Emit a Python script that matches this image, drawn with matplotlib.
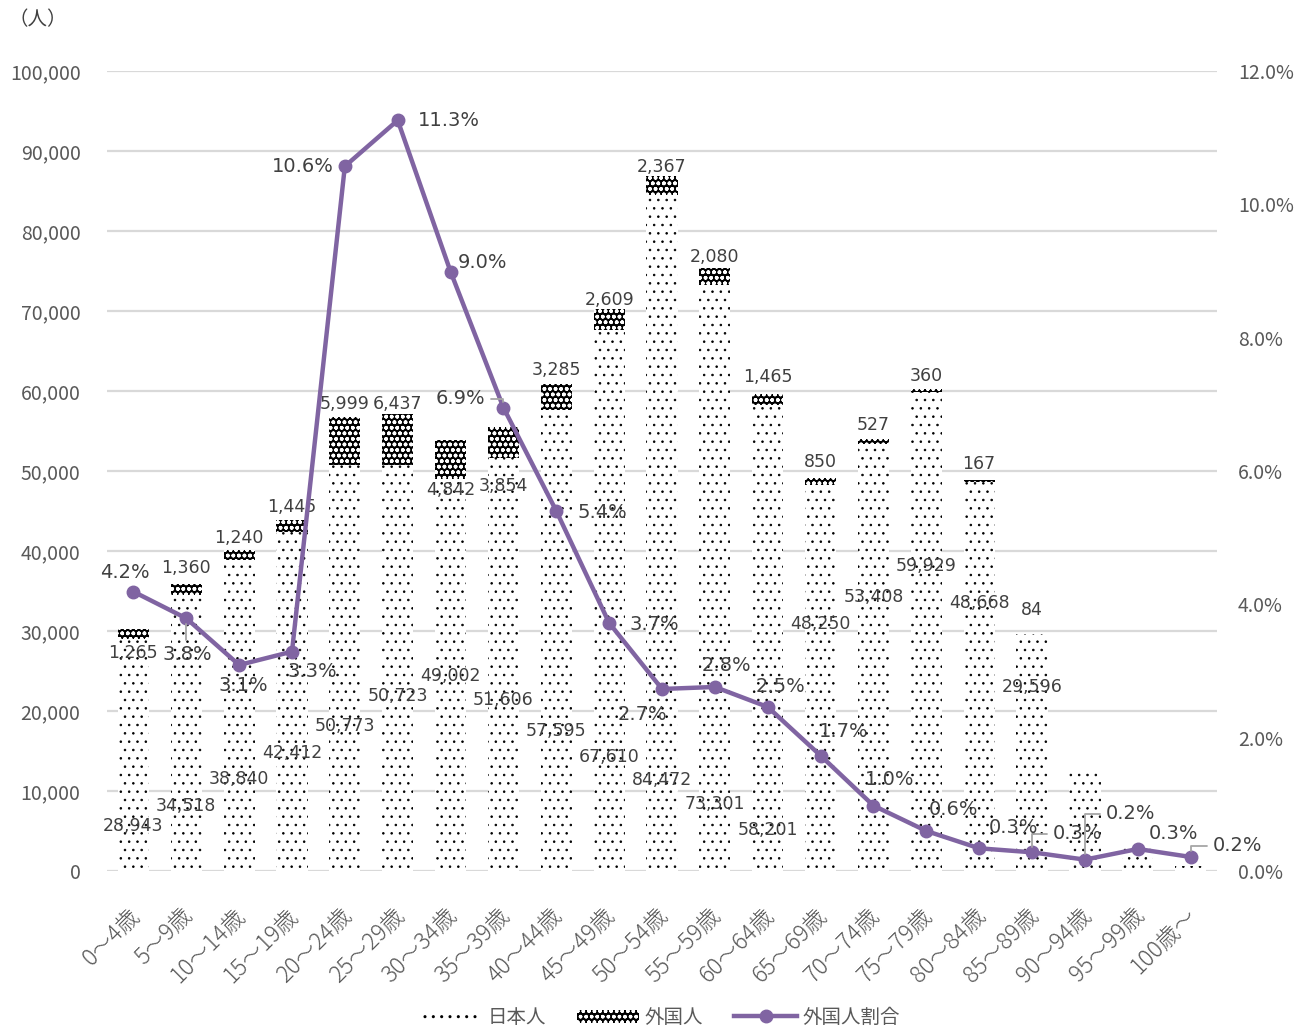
import matplotlib
matplotlib.use("Agg")
import matplotlib.pyplot as plt
from matplotlib.patches import Patch
from matplotlib.lines import Line2D
from matplotlib.ticker import FuncFormatter, MultipleLocator
from matplotlib.transforms import ScaledTranslation

plt.rcParams['font.family'] = ['Noto Sans CJK JP', 'DejaVu Sans']

# ---------------- data ----------------
categories = ["0～4歳", "5～9歳", "10～14歳", "15～19歳", "20～24歳", "25～29歳",
              "30～34歳", "35～39歳", "40～44歳", "45～49歳", "50～54歳", "55～59歳",
              "60～64歳", "65～69歳", "70～74歳", "75～79歳", "80～84歳", "85～89歳",
              "90～94歳", "95～99歳", "100歳～"]
japanese = [28943, 34518, 38840, 42412, 50773, 50723, 49002, 51606, 57595, 67610,
            84472, 73301, 58201, 48250, 53408, 59929, 48668, 29596, 12850, 3200, 560]
foreign = [1265, 1360, 1240, 1445, 5999, 6437, 4842, 3854, 3285, 2609,
           2367, 2080, 1465, 850, 527, 360, 167, 84, 25, 10, 1]
ratio = [4.19, 3.79, 3.09, 3.29, 10.57, 11.26, 8.99, 6.95, 5.40, 3.72,
         2.73, 2.76, 2.46, 1.73, 0.98, 0.60, 0.34, 0.28, 0.17, 0.33, 0.21]
ratio_labels = ["4.2%", "3.8%", "3.1%", "3.3%", "10.6%", "11.3%", "9.0%", "6.9%",
                "5.4%", "3.7%", "2.7%", "2.8%", "2.5%", "1.7%", "1.0%", "0.6%",
                "0.3%", "0.3%", "0.2%", "0.3%", "0.2%"]
n_labeled = 18  # bar value labels shown for the first 18 groups

# label placement (y in axis data units; x offsets in category units)
jp_label_y = [5625, 8125, 11500, 14750, 18125, 21875, 24375, 21375, 17500, 14250,
              11375, 8375, 5125, 30875, 34250, 38125, 33500, 23000]
fr_label_y = [27250, 37875, 41625, 45500, 58375, 58375, 47625, 48125, 62625, 71375,
              88000, 76750, 61750, 51125, 55750, 61875, 50875, 32625]
pct_label_pos = [(-0.17, 4.47), (1.02, 3.24), (2.08, 2.78), (3.39, 2.985),
                 (3.20, 10.56), (5.96, 11.25), (6.60, 9.12), (6.19, 7.08),
                 (8.87, 5.37), (9.86, 3.69), (9.63, 2.34), (11.22, 3.075),
                 (12.24, 2.76), (13.43, 2.085), (14.30, 1.365), (15.52, 0.915),
                 (16.65, 0.645), (17.86, 0.555), (18.86, 0.855), (19.68, 0.555),
                 (20.89, 0.375)]
leader_idx = [1, 7, 17, 18, 20]

# ---------------- figure ----------------
fig = plt.figure(figsize=(13.06, 10.30), dpi=100)
ax = fig.add_axes([0.0819, 0.1544, 0.8500, 0.7767])
ax2 = ax.twinx()

x = list(range(len(categories)))
w = 0.59
with plt.rc_context({'hatch.linewidth': 0.6}):
    ax.bar(x, japanese, width=w, color='white', edgecolor='black', hatch='..',
           linewidth=0, zorder=2)
    jp_handle = Patch(facecolor='white', edgecolor='black', hatch='..', linewidth=0)
with plt.rc_context({'hatch.linewidth': 1.1}):
    ax.bar(x, foreign, width=w, bottom=japanese, color='black', edgecolor='white',
           hatch='ooo', linewidth=0, zorder=2)
    fr_handle = Patch(facecolor='black', edgecolor='white', hatch='ooo', linewidth=0)

ax.set_xlim(-0.5, len(categories) - 0.5)
ax.set_ylim(0, 100000)
ax.yaxis.set_major_locator(MultipleLocator(10000))
ax.yaxis.set_major_formatter(FuncFormatter(lambda v, p: f"{int(v):,}"))
ax.grid(axis='y', color='#d9d9d9', linewidth=1.6, zorder=0)
ax.set_axisbelow(True)
for s in ax.spines.values():
    s.set_visible(False)
for s in ax2.spines.values():
    s.set_visible(False)
ax.tick_params(axis='both', length=0, labelsize=14, colors='#595959')
ax.tick_params(axis='y', pad=19)
ax.set_xticks(x)
ax.set_xticklabels(categories, rotation=45, ha='right', rotation_mode='anchor',
                   fontsize=16.5, fontweight='light', color='#595959')
ax.tick_params(axis='x', pad=23)
shift = ScaledTranslation(-6 / 100, 0, fig.dpi_scale_trans)
for lab in ax.get_xticklabels():
    lab.set_transform(lab.get_transform() + shift)

ax2.set_ylim(0, 12)
ax2.yaxis.set_major_locator(MultipleLocator(2))
ax2.yaxis.set_major_formatter(FuncFormatter(lambda v, p: f"{v:.1f}%"))
ax2.tick_params(axis='y', length=0, labelsize=14, colors='#595959', pad=15)

ax2.plot(x, ratio, color='#8064A2', linewidth=3.2, marker='o', markersize=9,
         zorder=5)

num_font = dict(family='DejaVu Sans', fontsize=12.5, color='#404040',
                ha='center', va='center')
for i in range(n_labeled):
    ax.text(i, jp_label_y[i], f"{japanese[i]:,}", zorder=4, **num_font)
    ax.text(i, fr_label_y[i], f"{foreign[i]:,}", zorder=4, **num_font)

for i, (lx, ly) in enumerate(pct_label_pos):
    if i in leader_idx:
        ax2.annotate(ratio_labels[i], xy=(i, ratio[i]), xytext=(lx, ly),
                     family='DejaVu Sans', fontsize=14, color='#404040',
                     ha='center', va='center', zorder=6,
                     arrowprops=dict(arrowstyle='-', color='#a6a6a6', lw=1.3,
                                     shrinkA=2, shrinkB=4,
                                     connectionstyle='angle,angleA=0,angleB=90,rad=0'))
    else:
        ax2.text(lx, ly, ratio_labels[i], family='DejaVu Sans', fontsize=14,
                 color='#404040', ha='center', va='center', zorder=6)

fig.text(0.029, 0.9805, "（人）", fontsize=14, color='#404040', ha='center',
         va='center')

handles = [jp_handle, fr_handle,
           Line2D([0], [0], color='#8064A2', linewidth=3.2, marker='o',
                  markersize=9)]
fig.legend(handles, ["日本人", "外国人", "外国人割合"], loc='center',
           bbox_to_anchor=(0.505, 0.012), ncol=3, frameon=False, fontsize=14,
           labelcolor='#595959', handlelength=3.2, columnspacing=1.6,
           handletextpad=0.3)

fig.savefig("out.png", dpi=100)
